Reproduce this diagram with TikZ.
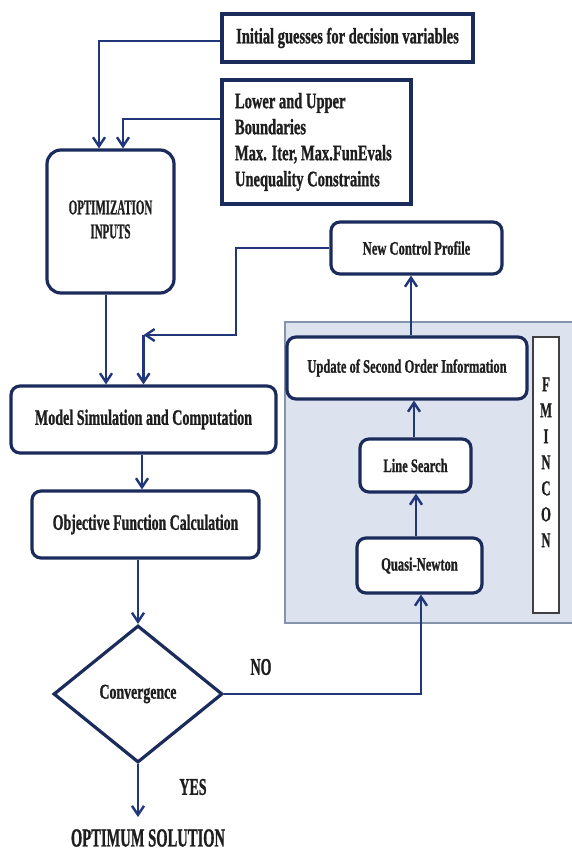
\documentclass[tikz,border=0pt]{standalone}
\usepackage{graphicx}
\usepackage{fontspec}
\setmainfont{Liberation Serif}[BoldFeatures={FakeBold=1.2}]
\usetikzlibrary{arrows.meta,shapes.geometric}
\definecolor{navy}{HTML}{1B2B5C}
\definecolor{arrc}{HTML}{22367A}
\definecolor{panelfill}{HTML}{DCE3EE}
\definecolor{panelline}{HTML}{8494AA}
\definecolor{txtc}{HTML}{1E1E1E}
\newcommand{\tx}[3]{{\fontsize{#1}{#1}\selectfont\bfseries\scalebox{#2}[1]{#3}}}
\begin{document}
\begin{tikzpicture}[x=1pt,y=-1pt,
  sbox/.style={draw=navy,line width=3.6pt,fill=white,inner sep=0pt,text=txtc},
  rbox/.style={draw=navy,line width=3.2pt,fill=white,rounded corners=9pt,inner sep=0pt,text=txtc},
  arr/.style={draw=arrc,line width=2.8pt,-{Straight Barb[length=9pt,width=12pt,line width=2.4pt]}},
  lbl/.style={inner sep=0pt,text=txtc}]
\useasboundingbox (0,0) rectangle (571,853);
\fill[white] (0,0) rectangle (571,853);
% panel
\node[draw=panelline,fill=panelfill,line width=1.8pt,minimum width=290pt,minimum height=301pt,inner sep=0pt] (panel) at (430,472.5) {};
% boxes
\node[sbox,minimum width=251pt,minimum height=48pt] (init) at (347.5,38) {\tx{22}{0.66}{Initial guesses for decision variables}};
\node[sbox,minimum width=189pt,minimum height=124pt] (bounds) at (316.5,142)
  {\makebox[189pt][l]{\hspace*{13pt}{\fontsize{22}{26}\selectfont\bfseries\scalebox{0.66}[1]{\begin{tabular}{@{}l@{}}Lower and Upper\\Boundaries\\Max. Iter, Max.FunEvals\\Unequality Constraints\end{tabular}}}}};
\node[rbox,rounded corners=14pt,minimum width=127pt,minimum height=143pt] (optin) at (110.5,221.5)
  {{\fontsize{21}{24}\selectfont\bfseries\scalebox{0.52}[1]{\begin{tabular}{@{}c@{}}OPTIMIZATION\\INPUTS\end{tabular}}}};
\node[rbox,minimum width=171pt,minimum height=52pt] (ncp) at (416.5,248) {\tx{19}{0.66}{New Control Profile}};
\node[rbox,minimum width=265pt,minimum height=67pt] (model) at (143.5,419.5) {\tx{22}{0.64}{Model Simulation and Computation}};
\node[rbox,minimum width=227pt,minimum height=67pt] (obj) at (145.5,524.5) {\tx{22}{0.63}{Objective Function Calculation}};
\node[diamond,draw=navy,line width=3.2pt,fill=white,minimum width=169pt,minimum height=137pt,inner sep=0pt,text=txtc] (conv) at (138,694) {\tx{21}{0.66}{Convergence}};
\node[rbox,minimum width=240pt,minimum height=62pt] (update) at (407,368) {\tx{19}{0.66}{Update of Second Order Information}};
\node[draw=black!75,line width=1.8pt,fill=white,minimum width=26pt,minimum height=276pt,inner sep=0pt] (fmin) at (546,475) {};
\node[lbl] (fmlbl) at (546,464) {{\fontsize{21}{26}\selectfont\bfseries\scalebox{0.6}[1]{\begin{tabular}{@{}c@{}}F\\M\\I\\N\\C\\O\\N\end{tabular}}}};
\node[rbox,minimum width=111pt,minimum height=53pt] (ls) at (415.5,465.5) {\tx{19}{0.66}{Line Search}};
\node[rbox,minimum width=125pt,minimum height=55pt] (qn) at (419.5,565.5) {\tx{19}{0.66}{Quasi-Newton}};
\node[lbl] (opt) at (148,838) {\tx{26}{0.56}{OPTIMUM SOLUTION}};
\node[lbl] (no) at (261,667) {\tx{24}{0.58}{NO}};
\node[lbl] (yes) at (193,787) {\tx{24}{0.58}{YES}};
% connectors
\draw[arr] ([yshift=-3pt]init.west) -| ([xshift=-11.5pt]optin.north);
\draw[arr] ([yshift=23pt]bounds.west) -| ([xshift=12.5pt]optin.north);
\coordinate (j1) at (236,335);
\coordinate (j2) at (143.5,335);
\draw[arr] (ncp.west) -| (j1) -- (j2);
\draw[arr] (j2) -- (model.north);
\draw[arr] ([xshift=-4.5pt]optin.south) -- ([xshift=-4.5pt]optin.south |- model.north);
\draw[arr] ([xshift=-1.5pt]model.south) -- ([xshift=-1.5pt]model.south |- obj.north);
\draw[arr] (obj.south -| conv.north) -- (conv.north);
\draw[arr] (conv.east) -| ([xshift=1.5pt]qn.south);
\coordinate (yend) at (138,817);
\draw[arr] (conv.south) -- (yend);
\draw[arr] ([xshift=-3.5pt]qn.north) -- ([xshift=-3.5pt]qn.north |- ls.south);
\draw[arr] ([xshift=-1.5pt]ls.north) -- ([xshift=-1.5pt]ls.north |- update.south);
\draw[arr] ([xshift=4pt]update.north) -- ([xshift=4pt]update.north |- ncp.south);
\end{tikzpicture}
\end{document}
